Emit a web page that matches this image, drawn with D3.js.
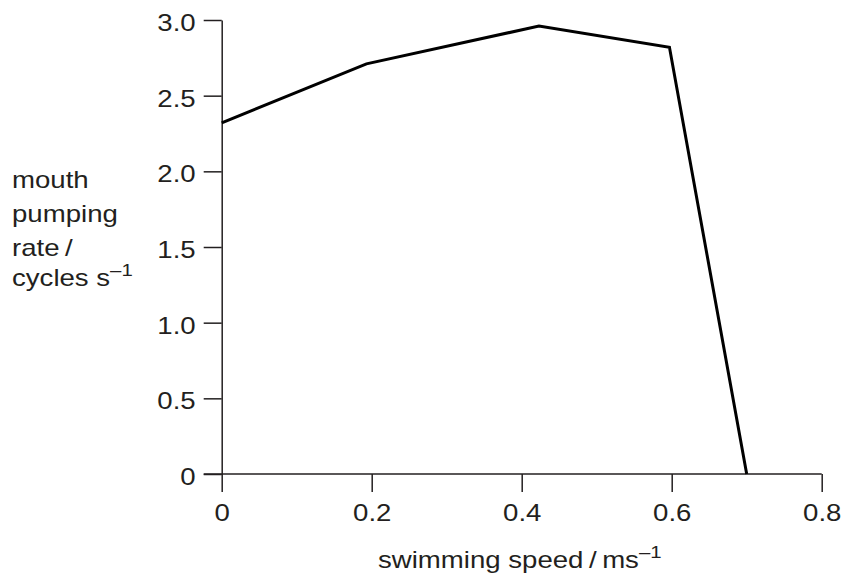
<!DOCTYPE html>
<html>
<head>
<meta charset="utf-8">
<script src="https://cdn.jsdelivr.net/npm/d3@7"></script>
<style>
  html, body { margin: 0; padding: 0; background: #fff; }
  svg { display: block; font-family: "Liberation Sans", Arial, sans-serif; }
</style>
</head>
<body>
<div id="chart"></div>
<script>
// swimming speed / m s-1
const speed = [0, 0.193, 0.423, 0.597, 0.7];
// mouth pumping rate / cycles s-1
const pumpRate = [2.32, 2.71, 2.96, 2.82, 0];
const xTicks = [0, 0.2, 0.4, 0.6, 0.8];
const yTicks = [0, 0.5, 1.0, 1.5, 2.0, 2.5, 3.0];
const yLabelLines = ["mouth", "pumping", "rate\u2009/", "cycles s"];

const W = 844, H = 581;
const ink = "#231f20";
const fs = 23;        // font size
const sx = 1.2;       // the reference lettering is a little wide

const svg = d3.select("#chart").append("svg")
    .attr("width", W)
    .attr("height", H);

const x = d3.scaleLinear().domain([0, 0.8]).range([221.7, 821.7]);
const y = d3.scaleLinear().domain([0, 3]).range([474, 20]);

const fmt = d => d === 0 ? "0" : d3.format(".1f")(d);

// x axis
const gx = svg.append("g")
    .attr("transform", `translate(0,${y(0)})`)
    .call(d3.axisBottom(x)
        .tickValues(xTicks)
        .tickFormat(fmt)
        .tickSize(18)
        .tickSizeOuter(0)
        .tickPadding(13));

// y axis
const gy = svg.append("g")
    .attr("transform", `translate(${x(0)},0)`)
    .call(d3.axisLeft(y)
        .tickValues(yTicks)
        .tickFormat(fmt)
        .tickSize(18)
        .tickSizeOuter(0)
        .tickPadding(8));

[gx, gy].forEach(g => {
    g.select(".domain").attr("stroke", ink).attr("stroke-width", 1.5);
    g.selectAll(".tick line").attr("stroke", ink).attr("stroke-width", 1.5);
    g.selectAll(".tick text")
        .attr("fill", ink)
        .attr("transform", `scale(${sx},1)`)
        .style("font-size", fs + "px")
        .style("font-family", "\"Liberation Sans\", Arial, sans-serif");
});
gy.selectAll(".tick text")
    .attr("x", -(18 + 8) / sx)
    .attr("dy", "0.45em");

// the x axis line runs a little past the y axis, as the ticks do
gx.select(".domain").attr("d", `M${x(0) - 18},0H${x(0.8)}`);

// data line
const line = d3.line()
    .x((d, i) => x(speed[i]))
    .y(d => y(d));

svg.append("path")
    .datum(pumpRate)
    .attr("fill", "none")
    .attr("stroke", "#000")
    .attr("stroke-width", 3)
    .attr("stroke-linejoin", "miter")
    .attr("d", line);

// y axis title
const yBase = [188, 222, 256, 286];
const yt = svg.append("text")
    .attr("transform", `translate(12,0) scale(${sx},1)`)
    .attr("fill", ink)
    .style("font-size", fs + "px");
yLabelLines.forEach((t, i) => {
    yt.append("tspan").attr("x", 0).attr("y", yBase[i]).text(t);
    if (i === yLabelLines.length - 1) {
        yt.append("tspan").attr("dy", -10).style("font-size", "17px").text("\u20131");
    }
});

// x axis title
const xt = svg.append("text")
    .attr("transform", `translate(378,568) scale(${sx},1)`)
    .attr("fill", ink)
    .style("font-size", fs + "px");
xt.append("tspan").text("swimming speed\u2009/\u2009ms");
xt.append("tspan").attr("dy", -10).style("font-size", "17px").text("\u20131");
</script>
</body>
</html>
